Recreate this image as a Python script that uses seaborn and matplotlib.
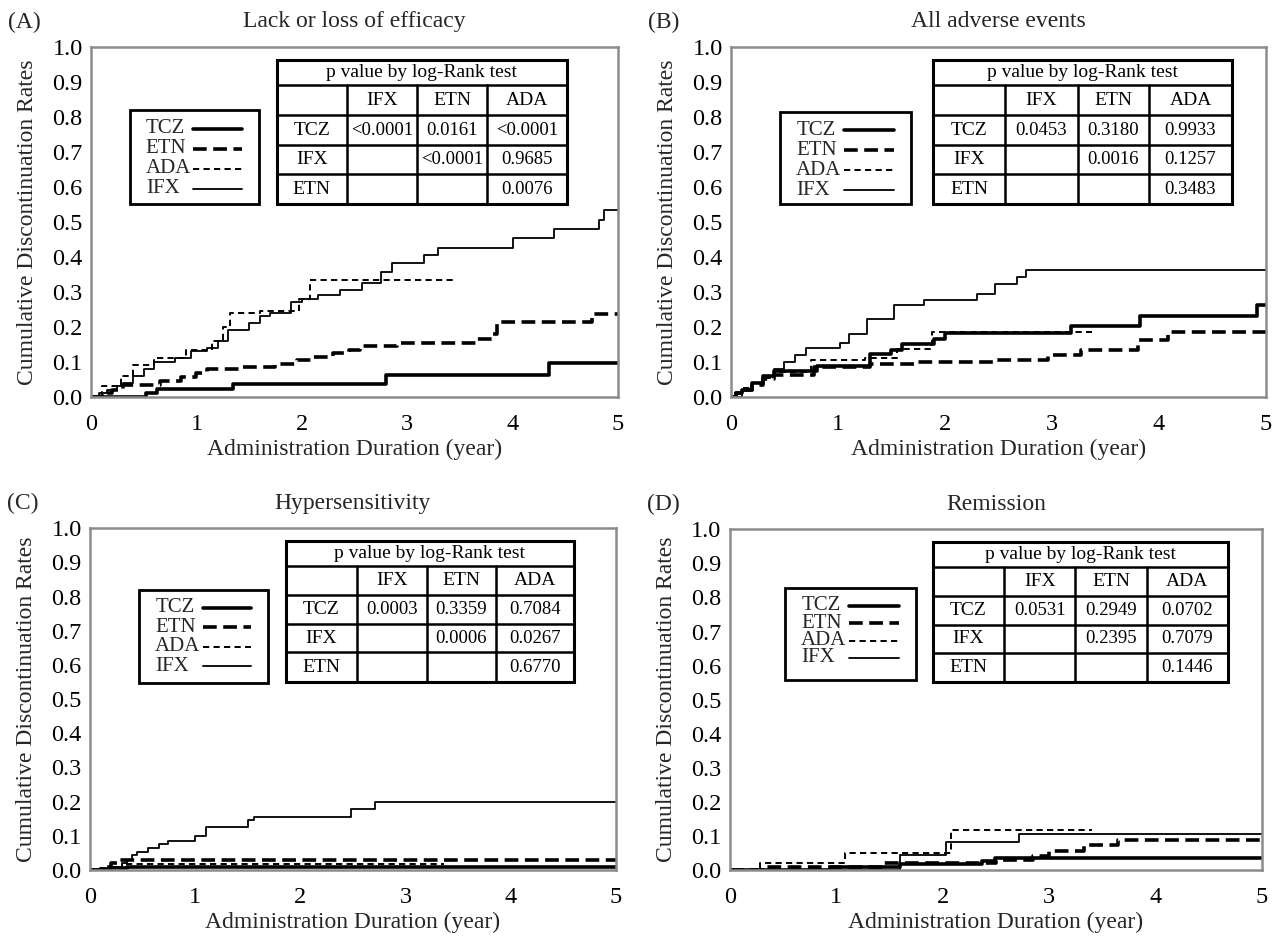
import numpy as np
import pandas as pd
import matplotlib
matplotlib.use("Agg")
import matplotlib.pyplot as plt
from matplotlib.patches import Rectangle
from matplotlib.lines import Line2D
import seaborn as sns

# ---- values (time in years, cumulative rate) ----
# (A) lack or loss of efficacy
a_tcz_t = [0, 0.52, 0.63, 1.35, 2.80, 4.35, 5.0]
a_tcz_y = [0, 0.010, 0.022, 0.038, 0.062, 0.097, 0.097]
a_etn_t = [0, 0.10, 0.20, 0.30, 0.65, 0.85, 1.00, 1.10, 1.40, 1.75, 1.95, 2.10, 2.30,
           2.45, 2.55, 2.90, 3.65, 3.80, 3.85, 4.75, 5.0]
a_etn_y = [0, 0.01, 0.02, 0.035, 0.045, 0.058, 0.068, 0.08, 0.085, 0.095, 0.105, 0.115,
           0.125, 0.135, 0.145, 0.153, 0.165, 0.18, 0.215, 0.237, 0.237]
a_ada_t = [0, 0.10, 0.28, 0.40, 0.60, 0.90, 1.15, 1.25, 1.32, 1.60, 1.97, 2.08, 3.43]
a_ada_y = [0, 0.03, 0.06, 0.09, 0.11, 0.134, 0.16, 0.20, 0.24, 0.245, 0.28, 0.334, 0.334]
a_ifx_t = [0, 0.08, 0.15, 0.25, 0.30, 0.40, 0.50, 0.60, 0.80, 0.95, 1.10, 1.20, 1.30, 1.50,
           1.60, 1.70, 1.90, 2.00, 2.15, 2.36, 2.57, 2.75, 2.86, 3.16, 3.29, 4.00, 4.39,
           4.82, 4.87, 5.0]
a_ifx_y = [0, 0.01, 0.02, 0.03, 0.04, 0.06, 0.08, 0.10, 0.11, 0.13, 0.14, 0.16, 0.19, 0.21,
           0.23, 0.24, 0.27, 0.28, 0.29, 0.306, 0.326, 0.357, 0.383, 0.406, 0.426, 0.454,
           0.48, 0.506, 0.534, 0.534]

# (B) all adverse events
b_tcz_t = [0, 0.05, 0.10, 0.20, 0.30, 0.40, 0.80, 1.30, 1.50, 1.60, 1.90, 2.00, 3.18, 3.82, 4.92, 5.0]
b_tcz_y = [0, 0.01, 0.02, 0.04, 0.06, 0.075, 0.088, 0.122, 0.135, 0.15, 0.165, 0.182, 0.203,
           0.231, 0.262, 0.262]
b_etn_t = [0, 0.05, 0.10, 0.20, 0.30, 0.40, 0.78, 1.30, 1.75, 2.45, 2.96, 3.27, 3.80, 4.08, 5.0]
b_etn_y = [0, 0.01, 0.02, 0.035, 0.05, 0.063, 0.087, 0.094, 0.10, 0.106, 0.121, 0.134, 0.163,
           0.187, 0.187]
b_ada_t = [0, 0.05, 0.10, 0.20, 0.30, 0.40, 0.75, 1.25, 1.55, 1.88, 3.37]
b_ada_y = [0, 0.01, 0.025, 0.04, 0.055, 0.07, 0.106, 0.11, 0.137, 0.187, 0.187]
b_ifx_t = [0, 0.10, 0.20, 0.30, 0.40, 0.50, 0.60, 0.70, 1.02, 1.10, 1.27, 1.52, 1.80, 2.30,
           2.47, 2.67, 2.76, 5.0]
b_ifx_y = [0, 0.02, 0.04, 0.06, 0.08, 0.10, 0.12, 0.14, 0.155, 0.18, 0.224, 0.262, 0.276,
           0.295, 0.324, 0.343, 0.363, 0.363]

# (C) hypersensitivity
c_tcz_t = [0, 0.20, 0.35, 5.0]
c_tcz_y = [0, 0.005, 0.01, 0.01]
c_etn_t = [0, 0.10, 0.20, 0.28, 5.0]
c_etn_y = [0, 0.01, 0.02, 0.03, 0.03]
c_ada_t = [0, 0.15, 0.30, 3.37]
c_ada_y = [0, 0.01, 0.018, 0.018]
c_ifx_t = [0, 0.10, 0.20, 0.30, 0.35, 0.40, 0.45, 0.55, 0.66, 0.74, 1.00, 1.10, 1.50, 1.56,
           2.48, 2.71, 5.0]
c_ifx_y = [0, 0.005, 0.01, 0.02, 0.03, 0.045, 0.054, 0.064, 0.075, 0.086, 0.10, 0.125,
           0.145, 0.156, 0.178, 0.198, 0.198]

# (D) remission
d_tcz_t = [0, 0.95, 1.60, 2.37, 2.49, 5.0]
d_tcz_y = [0, 0.008, 0.018, 0.027, 0.034, 0.034]
d_etn_t = [0, 0.30, 1.45, 2.50, 2.85, 3.00, 3.33, 3.65, 5.0]
d_etn_y = [0, 0.01, 0.02, 0.03, 0.04, 0.057, 0.073, 0.088, 0.088]
d_ada_t = [0, 0.28, 1.08, 2.08, 3.40]
d_ada_y = [0, 0.02, 0.05, 0.117, 0.117]
d_ifx_t = [0, 1.60, 2.03, 2.72, 5.0]
d_ifx_y = [0, 0.045, 0.082, 0.105, 0.105]

# log-rank p values (rows TCZ, IFX, ETN; columns IFX, ETN, ADA)
a_pvals = [["<0.0001", "0.0161", "<0.0001"], ["", "<0.0001", "0.9685"], ["", "", "0.0076"]]
b_pvals = [["0.0453", "0.3180", "0.9933"], ["", "0.0016", "0.1257"], ["", "", "0.3483"]]
c_pvals = [["0.0003", "0.3359", "0.7084"], ["", "0.0006", "0.0267"], ["", "", "0.6770"]]
d_pvals = [["0.0531", "0.2949", "0.0702"], ["", "0.2395", "0.7079"], ["", "", "0.1446"]]

drugs = ["TCZ", "ETN", "ADA", "IFX"]
table_cols = ["IFX", "ETN", "ADA"]
table_rows = ["TCZ", "IFX", "ETN"]
panel_tags = ["(A)", "(B)", "(C)", "(D)"]
panel_titles = ["Lack or loss of efficacy", "All adverse events", "Hypersensitivity", "Remission"]

# line look for each drug
styles = {
    "TCZ": dict(lw=2.6, ls="-"),
    "ETN": dict(lw=2.6, ls=(0, (3.8, 1.8))),
    "ADA": dict(lw=1.4, ls=(0, (3.2, 2.2))),
    "IFX": dict(lw=1.3, ls="-"),
}

sns.set_theme(style="white")
plt.rcParams["font.family"] = ["Liberation Serif", "DejaVu Serif"]


def draw_table(ax, xs, ys, pvals):
    x0, x1 = xs[0], xs[-1]
    kw = dict(transform=ax.transAxes, color="black", lw=1.8, clip_on=False)
    ax.add_patch(Rectangle((x0, ys[-1]), x1 - x0, ys[0] - ys[-1], transform=ax.transAxes,
                           fill=False, ec="black", lw=2.2, clip_on=False, zorder=5))
    for y in ys[1:-1]:
        ax.add_line(Line2D([x0, x1], [y, y], **kw))
    for x in xs[1:-1]:
        ax.add_line(Line2D([x, x], [ys[1], ys[-1]], **kw))
    tk = dict(transform=ax.transAxes, ha="center", va="center", color="black")
    ax.text((x0 + x1) / 2, (ys[0] + ys[1]) / 2, "p value by log-Rank test", fontsize=14, **tk)
    for j, c in enumerate(table_cols):
        ax.text((xs[j + 1] + xs[j + 2]) / 2, (ys[1] + ys[2]) / 2, c, fontsize=14, **tk)
    for i, r in enumerate(table_rows):
        yc = (ys[i + 2] + ys[i + 3]) / 2
        ax.text((xs[0] + xs[1]) / 2, yc, r, fontsize=14, **tk)
        for j, v in enumerate(pvals[i]):
            ax.text((xs[j + 1] + xs[j + 2]) / 2, yc, v, fontsize=13.5, **tk)


def draw_legend(ax, x0, top, bottom, step):
    ax.add_patch(Rectangle((x0, bottom), 0.245, top - bottom, transform=ax.transAxes,
                           fill=False, ec="black", lw=2.0, clip_on=False, zorder=5))
    for k, d in enumerate(drugs):
        y = top - 0.052 - k * step
        ax.text(x0 + 0.03, y, d, fontsize=15, va="center", ha="left", transform=ax.transAxes)
        st = styles[d]
        ax.add_line(Line2D([x0 + 0.12, x0 + 0.213], [y, y], transform=ax.transAxes,
                           color="black", lw=st["lw"], ls=st["ls"], clip_on=False))


def plot_panel(ax, series, tag, title, pvals, leg, tab_x):
    for d, (t, y) in zip(drugs, series):
        df = pd.DataFrame({"time": t, "rate": y})
        st = styles[d]
        sns.lineplot(data=df, x="time", y="rate", ax=ax, drawstyle="steps-post",
                     color="black", linewidth=st["lw"], linestyle=st["ls"], estimator=None)
    ax.set_xlim(0, 5)
    ax.set_ylim(0, 1)
    ax.set_xticks(range(6))
    yt = np.round(np.arange(0, 1.01, 0.1), 1)
    ax.set_yticks(yt)
    ax.set_yticklabels([f"{v:.1f}" for v in yt])
    ax.tick_params(axis="both", length=0, labelsize=17.5, colors="black")
    ax.tick_params(axis="x", pad=12)
    ax.tick_params(axis="y", pad=6)
    ax.set_xlabel("Administration Duration (year)", fontsize=17, labelpad=3)
    ax.set_ylabel("Cumulative Discontinuation Rates", fontsize=17, labelpad=10)
    for s in ax.spines.values():
        s.set_color("#8c8c8c")
        s.set_linewidth(1.8)
    ax.annotate(title, xy=(0.5, 1), xycoords="axes fraction", xytext=(0, 18),
                textcoords="offset points", ha="center", va="center", fontsize=17)
    ax.annotate(tag, xy=(0, 1), xycoords="axes fraction", xytext=(-60, 18),
                textcoords="offset points", ha="left", va="center", fontsize=17)
    draw_legend(ax, *leg)
    draw_table(ax, tab_x, [0.963, 0.890, 0.805, 0.720, 0.637, 0.551], pvals)


fig = plt.figure(figsize=(12.75, 9.36), dpi=100)
ax_a = fig.add_axes([0.0714, 0.5759, 0.4133, 0.3739])
ax_b = fig.add_axes([0.5733, 0.5759, 0.4196, 0.3739])
ax_c = fig.add_axes([0.0706, 0.0705, 0.4125, 0.3651])
ax_d = fig.add_axes([0.5725, 0.0705, 0.4173, 0.3640])

plot_panel(ax_a, [(a_tcz_t, a_tcz_y), (a_etn_t, a_etn_y), (a_ada_t, a_ada_y), (a_ifx_t, a_ifx_y)],
           panel_tags[0], panel_titles[0], a_pvals,
           (0.074, 0.819, 0.552, 0.0573), [0.352, 0.486, 0.618, 0.752, 0.904])
plot_panel(ax_b, [(b_tcz_t, b_tcz_y), (b_etn_t, b_etn_y), (b_ada_t, b_ada_y), (b_ifx_t, b_ifx_y)],
           panel_tags[1], panel_titles[1], b_pvals,
           (0.092, 0.814, 0.550, 0.0573), [0.378, 0.513, 0.648, 0.782, 0.936])
plot_panel(ax_c, [(c_tcz_t, c_tcz_y), (c_etn_t, c_etn_y), (c_ada_t, c_ada_y), (c_ifx_t, c_ifx_y)],
           panel_tags[2], panel_titles[2], c_pvals,
           (0.094, 0.820, 0.546, 0.0573), [0.372, 0.508, 0.640, 0.771, 0.920])
plot_panel(ax_d, [(d_tcz_t, d_tcz_y), (d_etn_t, d_etn_y), (d_ada_t, d_ada_y), (d_ifx_t, d_ifx_y)],
           panel_tags[3], panel_titles[3], d_pvals,
           (0.104, 0.827, 0.558, 0.0507), [0.381, 0.515, 0.649, 0.783, 0.936])

fig.savefig("out.png", dpi=100)
